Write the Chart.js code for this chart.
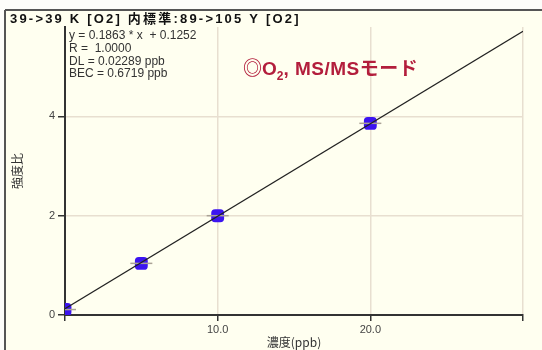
<!DOCTYPE html>
<html lang="ja">
<head>
<meta charset="utf-8">
<title>検量線 39K</title>
<script src="https://cdn.jsdelivr.net/npm/chart.js@4"></script>
<style>
  html, body { margin: 0; padding: 0; background: #fff; }
  canvas { display: block; }
</style>
</head>
<body>
<canvas id="calibChart" width="542" height="350"></canvas>
<script>
// 測定点 (濃度 ppb / 強度比)
const concentrations = [0, 5, 10, 20];
const intensityRatios = [0.11, 1.04, 2.00, 3.86];

// 回帰直線の両端
const fitX = [0, 30];
const fitY = [0.125, 5.714];

// 目盛り
const xTickValues = [0, 10, 20, 30];
const xTickLabels = ['', '10.0', '20.0', ''];
const yTickValues = [0, 2, 4];
const yTickLabels = ['0', '2', '4'];

// テキスト
const headerText = '39->39 K [O2] 内標準:89->105 Y [O2]';
const statsLines = ['y = 0.1863 * x  + 0.1252', 'R =  1.0000', 'DL = 0.02289 ppb', 'BEC = 0.6719 ppb'];
const modeLabel = ['◎O', '2', ', MS/MSモード'];

const CREAM = '#fffff0';
const LATIN = "'Liberation Sans', Arial, 'Noto Sans CJK JP', sans-serif";

// 背景と外枠
const framePlugin = {
    id: 'frame',
    beforeDraw(chart) {
        const ctx = chart.ctx;
        ctx.save();
        ctx.fillStyle = '#fdfdfa';
        ctx.fillRect(0, 0, chart.width, chart.height);
        ctx.fillStyle = CREAM;
        ctx.fillRect(5, 10, chart.width - 5, chart.height - 10);
        ctx.strokeStyle = '#555';
        ctx.lineWidth = 2;
        ctx.beginPath();
        ctx.moveTo(5, 10);
        ctx.lineTo(chart.width, 10);
        ctx.moveTo(5, 10);
        ctx.lineTo(5, chart.height);
        ctx.stroke();
        ctx.restore();
    }
};

// 見出し・回帰式・モード表示
const textPlugin = {
    id: 'texts',
    afterDraw(chart) {
        const ctx = chart.ctx;
        ctx.save();
        ctx.textBaseline = 'alphabetic';
        ctx.textAlign = 'left';

        ctx.fillStyle = '#111';
        ctx.font = "bold 13px " + LATIN;
        ctx.letterSpacing = '2.2px';
        ctx.fillText(headerText, 10, 22.5);
        ctx.letterSpacing = '0px';

        ctx.fillStyle = '#333';
        ctx.font = "12px " + LATIN;
        statsLines.forEach((line, i) => ctx.fillText(line, 69, 39 + i * 12.8));

        ctx.fillStyle = '#b31e3c';
        let x = 243;
        ctx.font = "bold 19px " + LATIN;
        ctx.fillText(modeLabel[0], x, 75);
        x += ctx.measureText(modeLabel[0]).width;
        ctx.font = "bold 12px " + LATIN;
        ctx.fillText(modeLabel[1], x, 80);
        x += ctx.measureText(modeLabel[1]).width;
        ctx.font = "bold 19px " + LATIN;
        ctx.letterSpacing = '0.5px';
        ctx.fillText(modeLabel[2], x, 75);
        ctx.restore();
    }
};

const tickFont = { family: LATIN, size: 11 };

new Chart(document.getElementById('calibChart'), {
    type: 'scatter',
    data: {
        datasets: [{
            type: 'line',
            data: fitX.map((x, i) => ({ x: x, y: fitY[i] })),
            borderColor: '#222',
            borderWidth: 1.2,
            pointRadius: 0,
            order: 1
        }, {
            data: concentrations.map((x, i) => ({ x: x, y: intensityRatios[i] })),
            pointStyle: 'line',
            pointRadius: 11,
            pointBorderWidth: 1.5,
            borderColor: '#aaa296',
            order: 2
        }, {
            data: concentrations.map((x, i) => ({ x: x, y: intensityRatios[i] })),
            pointStyle: 'rectRounded',
            pointRadius: 7.5,
            pointBorderWidth: 0,
            backgroundColor: '#3c14f0',
            order: 3
        }]
    },
    options: {
        responsive: false,
        devicePixelRatio: 1,
        animation: false,
        layout: { padding: { left: 10, right: 19, top: 27, bottom: 0 } },
        plugins: {
            legend: { display: false },
            tooltip: { enabled: false }
        },
        scales: {
            x: {
                type: 'linear',
                min: 0,
                max: 30,
                afterBuildTicks: scale => { scale.ticks = xTickValues.map(v => ({ value: v })); },
                afterFit: scale => { scale.height = 35; },
                grid: { color: '#e8dfd0', lineWidth: 1.5, tickColor: '#333', tickLength: 6, tickWidth: 1.5 },
                border: { color: '#333', width: 2 },
                ticks: {
                    font: tickFont,
                    color: '#444',
                    padding: 2,
                    maxRotation: 0,
                    autoSkip: false,
                    callback: v => xTickLabels[xTickValues.indexOf(v)]
                },
                title: {
                    display: true,
                    text: '濃度(ppb)',
                    font: { family: "'Noto Sans CJK JP', sans-serif", size: 12 },
                    color: '#333',
                    padding: 0
                }
            },
            y: {
                min: 0,
                max: 5.8,
                afterBuildTicks: scale => { scale.ticks = yTickValues.map(v => ({ value: v })); },
                afterFit: scale => { scale.width = 55; },
                grid: { color: '#e8dfd0', lineWidth: 1.5, tickColor: '#333', tickLength: 7, tickWidth: 1.5 },
                border: { color: '#333', width: 2 },
                ticks: {
                    font: tickFont,
                    color: '#444',
                    padding: 3,
                    callback: v => yTickLabels[yTickValues.indexOf(v)]
                },
                title: {
                    display: true,
                    text: '強度比',
                    font: { family: "'Noto Sans CJK JP', sans-serif", size: 12 },
                    color: '#333',
                    padding: 0
                }
            }
        }
    },
    plugins: [framePlugin, textPlugin]
});
</script>
</body>
</html>
